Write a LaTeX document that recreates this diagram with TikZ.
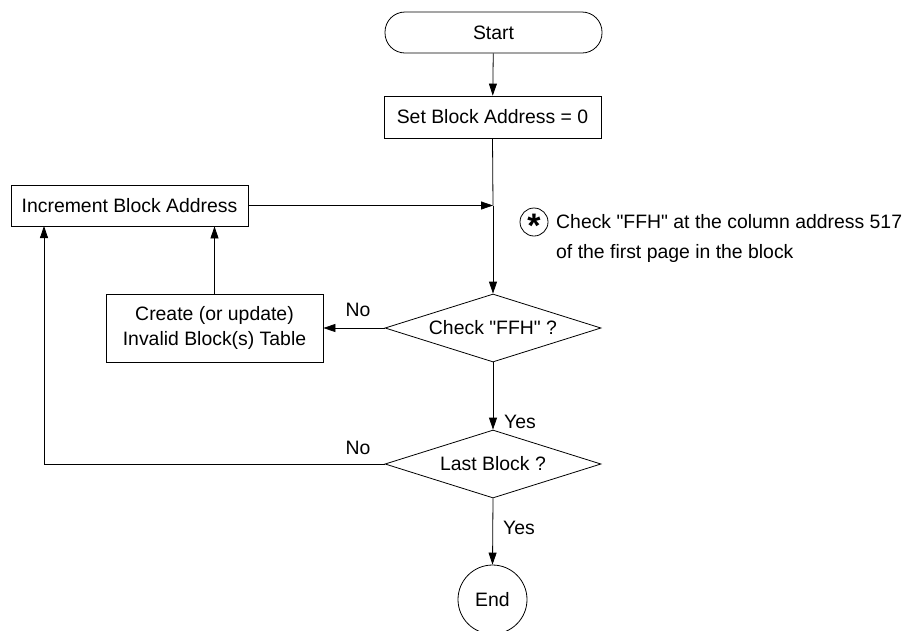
\documentclass[tikz,border=0pt]{standalone}
\usepackage{fontspec}
\setmainfont{Liberation Sans}[Ligatures=TeXOff]
\usetikzlibrary{shapes.geometric,arrows.meta}
\begin{document}
\begin{tikzpicture}[x=1pt,y=-1pt,
  every node/.style={font=\fontsize{19.4}{25}\selectfont},
  box/.style={draw,line width=0.8pt,rectangle,inner sep=0pt},
  term/.style={box,rounded corners=20pt},
  decide/.style={draw,line width=0.8pt,diamond,inner sep=0pt,aspect=3.2},
  endc/.style={draw,line width=0.8pt,circle,inner sep=0pt},
  arr/.style={line width=0.8pt,-{Triangle[length=12pt,width=8pt]}},
  ln/.style={line width=0.8pt},
  lbl/.style={inner sep=0pt}]
\clip (0,0) rectangle (904,630);
\useasboundingbox (0,0) rectangle (904,630);

\node[term,minimum width=217pt,minimum height=41pt] (start) at (493.5,32.5) {Start};
\node[box,minimum width=217pt,minimum height=42pt] (set) at (492.5,117) {Set Block Address = 0};
\node[box,minimum width=237pt,minimum height=41pt] (incr) at (129.5,205.5) {Increment Block Address};
\node[box,minimum width=217pt,minimum height=68pt,align=center] (create) at (214.5,328) {Create (or update)\\Invalid Block(s) Table};
\node[decide,minimum width=216pt,minimum height=68pt] (check) at (493,328) {Check "FFH" ?};
\node[decide,minimum width=216pt,minimum height=68pt] (last) at (493,464) {Last Block ?};
\node[endc,minimum size=69pt] (end) at (492.5,599.5) {End};

\coordinate (join) at (493,205.5);
\coordinate (inL) at (44,226);

\draw[arr] (start) -- (set);
\draw[ln] (set.south) -- (join);
\draw[arr] (join) -- (check.north);
\draw[arr] (incr.east) -- (join);
\draw[arr] (check.west) -- (create.east);
\draw[arr] (create.north) -- (create.north |- incr.south);
\draw[arr] (check.south) -- (last.north);
\draw[arr] (last.west) -| (inL);
\draw[arr] (last.south) -- (end.north);

\node[lbl] (no1) at (358,310) {No};
\node[lbl] (no2) at (358,448) {No};
\node[lbl] (yes1) at (520,422) {Yes};
\node[lbl] (yes2) at (519,528) {Yes};

\node[endc,minimum size=28pt] (star) at (534,222) {};
\node[lbl] (ast) at ([yshift=-4pt]star.center) {\bfseries\fontsize{34}{34}\selectfont *};
\node[lbl,anchor=west] (note1) at (556,222) {Check "FFH" at the column address 517};
\node[lbl,anchor=west] (note2) at (556,253) {of the first page in the block};
\end{tikzpicture}
\end{document}
